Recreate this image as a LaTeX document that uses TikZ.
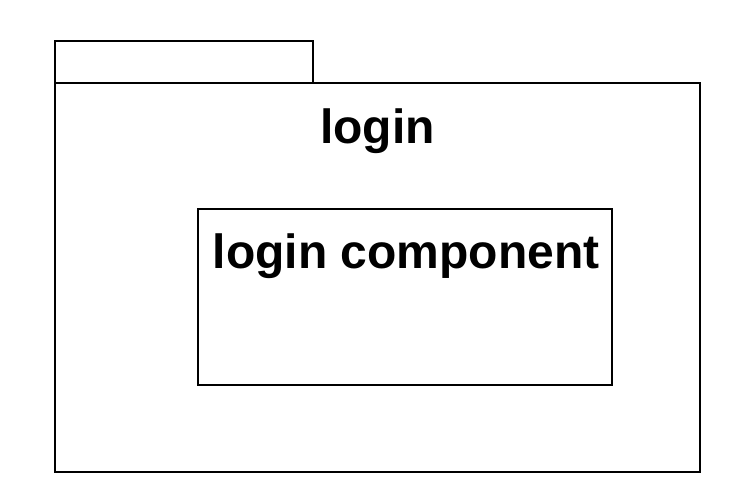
\documentclass[tikz,border=0pt]{standalone}
\usepackage{fontspec}
\setmainfont{Liberation Sans}
\usetikzlibrary{positioning}

\begin{document}
\begin{tikzpicture}[x=1pt,y=-1pt,line width=2.5pt,
  box/.style={draw,rectangle,inner sep=0pt,outer sep=0pt},
  title/.style={anchor=base,inner sep=0pt,font=\fontsize{48}{58}\selectfont\bfseries}]
\useasboundingbox (0,0) rectangle (733,503);
\node[box, minimum width=258pt, minimum height=42pt] (tab) at (184,62) {};
\node[box, minimum width=645pt, minimum height=389pt] (pkg) at (377.5,277.5) {};
\node[box, minimum width=414pt, minimum height=176pt] (comp) at (405,297) {};

\node[title] (pkgname) at (377.5,143) {login};
\node[title] (compname) at (406,268) {login component};
\end{tikzpicture}
\end{document}
